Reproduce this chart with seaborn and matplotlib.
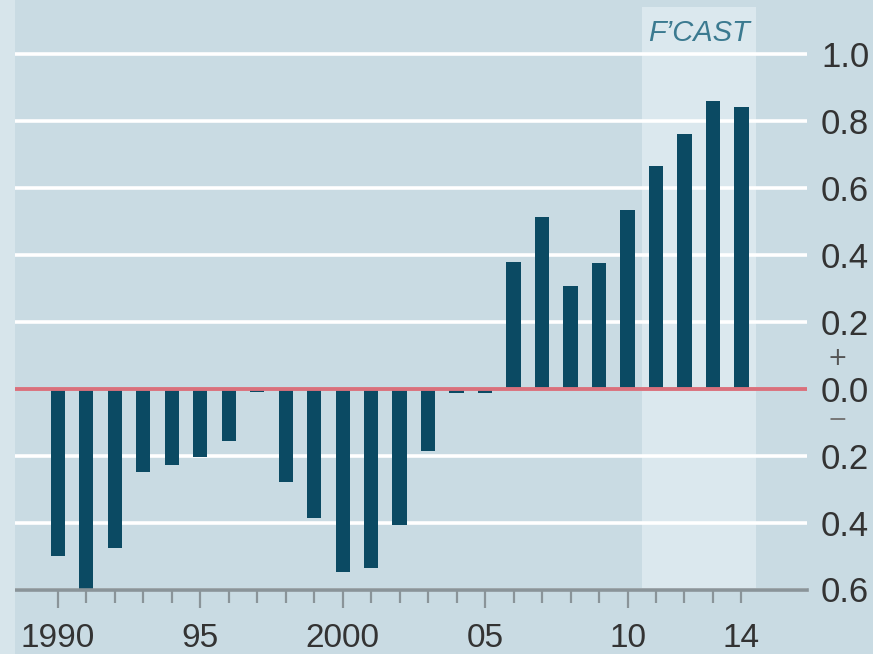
import matplotlib
matplotlib.use("Agg")
import matplotlib.pyplot as plt
from matplotlib.patches import Rectangle
import seaborn as sns
import pandas as pd

# data (2011-14 are forecasts)
years = list(range(1990, 2015))
values = [-0.50, -0.60, -0.475, -0.25, -0.228, -0.205, -0.157, -0.01, -0.278, -0.388,
          -0.547, -0.535, -0.407, -0.187, -0.012, -0.012, 0.378, 0.513, 0.307, 0.375,
          0.533, 0.665, 0.76, 0.857, 0.842]
xtick_pos = [1990, 1995, 2000, 2005, 2010, 2014]
xtick_labels = ["1990", "95", "2000", "05", "10", "14"]
ytick_pos = [-0.6, -0.4, -0.2, 0.0, 0.2, 0.4, 0.6, 0.8, 1.0]
ytick_labels = ["0.6", "0.4", "0.2", "0.0", "0.2", "0.4", "0.6", "0.8", "1.0"]
fcast_start, fcast_end = 2010.5, 2014.5

bg = "#c9dbe3"
light = "#dbe8ee"
bar_col = "#0b4a63"
red = "#d9707c"
grey_txt = "#333333"

df = pd.DataFrame({"year": years, "value": values})

fig = plt.figure(figsize=(8.73, 6.54), dpi=100, facecolor=bg)
fig.patches.append(Rectangle((0, 0), 15 / 873, 1, transform=fig.transFigure,
                             facecolor="#d7e5eb", edgecolor="none", zorder=0))
ax = fig.add_axes([15 / 873, 1 - 589.5 / 654, 792 / 873, 589.5 / 654])
ax.set_facecolor(bg)

# forecast shading
ax.set_ylim(-0.6, 1.16)
ax.set_xlim(1988.5, 2016.3)
ax.axvspan(fcast_start, fcast_end, ymin=0, ymax=(1.139 + 0.6) / 1.76,
           color=light, zorder=0, lw=0)

sns.barplot(data=df, x="year", y="value", native_scale=True, width=0.5,
            color=bar_col, saturation=1, edgecolor="none", ax=ax, zorder=2)
ax.set_xlim(1988.5, 2016.3)
ax.set_ylim(-0.6, 1.16)

# grid
ax.set_axisbelow(True)
ax.set_yticks(ytick_pos)
ax.set_yticklabels(ytick_labels)
ax.yaxis.grid(True, color="white", lw=2.6)
ax.xaxis.grid(False)
ax.axhline(0, color=red, lw=2.8, zorder=3)

for s in ["top", "left", "right"]:
    ax.spines[s].set_visible(False)
ax.spines["bottom"].set_color("#8a9499")
ax.spines["bottom"].set_linewidth(2.6)
ax.spines["bottom"].set_zorder(4)

# y labels on the right
ax.yaxis.tick_right()
ax.tick_params(axis="y", length=0, pad=10, labelsize=25, labelcolor=grey_txt)
for t in ax.get_yticklabels():
    t.set_fontfamily("Liberation Sans")
    t.set_horizontalalignment("left")

# x ticks
ax.set_xticks(xtick_pos)
ax.set_xticklabels(xtick_labels)
ax.set_xticks([y for y in years if y not in xtick_pos], minor=True)
ax.tick_params(axis="x", which="major", length=13, width=1.6, color="#8a9499",
               pad=11, labelsize=24, labelcolor=grey_txt)
ax.tick_params(axis="x", which="minor", length=9, width=1.6, color="#8a9499")
for t in ax.get_xticklabels():
    t.set_fontfamily("Liberation Sans")
ax.xaxis.get_major_ticks()[-1].tick1line.set_markersize(9)
ax.set_xlabel("")
ax.set_ylabel("")

# plus / minus signs
trans = ax.get_yaxis_transform()
ax.text((837 - 15) / 792, 0.09, "+", transform=trans, ha="center", va="center",
        fontsize=17, color="#555555", clip_on=False)
ax.text((837 - 15) / 792, -0.094, "\u2212", transform=trans, ha="center", va="center",
        fontsize=17, color="#777777", clip_on=False)

ax.text((fcast_start + fcast_end) / 2, 1.06, "F\u2019CAST", ha="center", va="center",
        fontsize=21, style="italic", color="#3b7a90",
        family=["Liberation Sans Narrow", "Liberation Sans", "DejaVu Sans"])

fig.savefig("out.png", dpi=100, facecolor=bg)
